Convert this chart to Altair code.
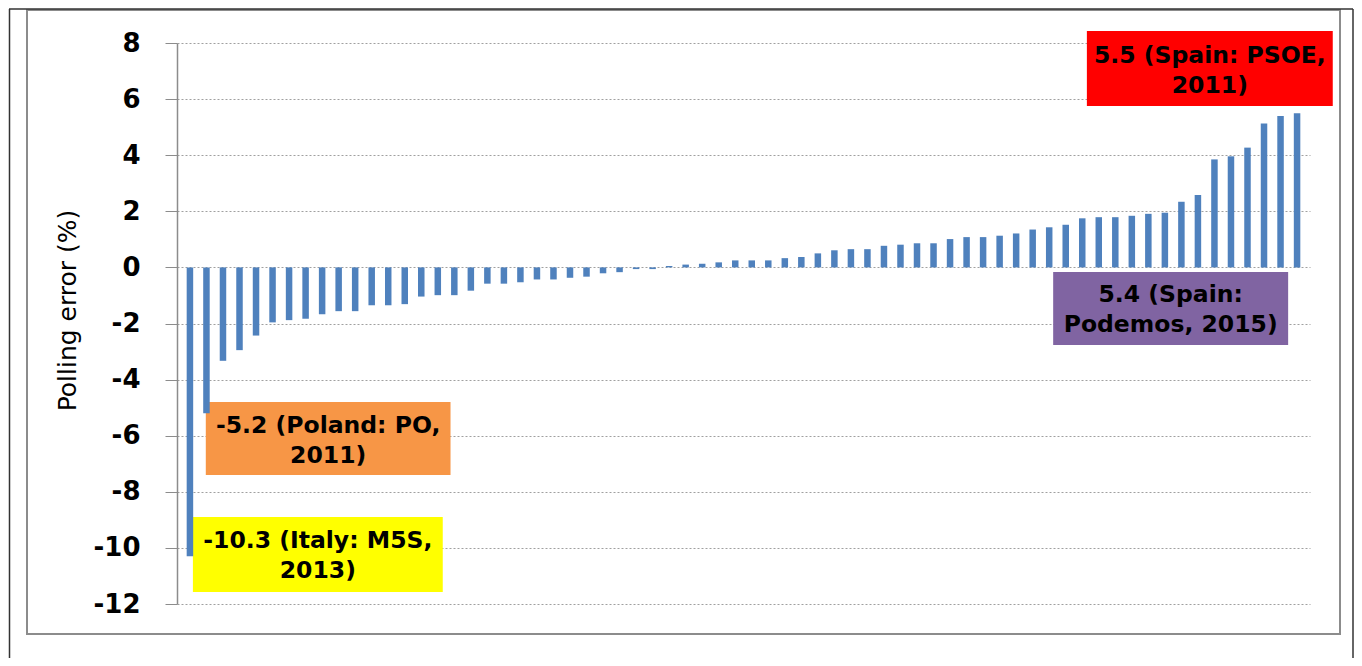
import altair as alt
import pandas as pd

# ---- data ----
bar_rank = list(range(1, 69))
polling_error = [
    -10.3, -5.2, -3.33, -2.95, -2.43, -1.96, -1.88, -1.83, -1.67, -1.56,
    -1.56, -1.35, -1.35, -1.31, -1.04, -0.99, -0.99, -0.83, -0.58, -0.58,
    -0.53, -0.43, -0.43, -0.37, -0.33, -0.21, -0.17, -0.06, -0.06, 0.05,
    0.10, 0.13, 0.18, 0.25, 0.25, 0.25, 0.33, 0.37, 0.50, 0.61,
    0.65, 0.65, 0.77, 0.81, 0.86, 0.86, 1.01, 1.08, 1.08, 1.13,
    1.21, 1.35, 1.43, 1.52, 1.75, 1.79, 1.79, 1.84, 1.91, 1.95,
    2.34, 2.58, 3.85, 3.96, 4.27, 5.13, 5.40, 5.50,
]
y_ticks = list(range(-12, 9, 2))

# annotation call-outs (anchored in data coordinates)
ann_text = ["-10.3 (Italy: M5S,\n2013)", "-5.2 (Poland: PO,\n2011)",
            "5.5 (Spain: PSOE,\n2011)", "5.4 (Spain:\nPodemos, 2015)"]
ann_color = ["#FFFF00", "#F79646", "#FF0000", "#8064A2"]
ann_x1 = [1.18, 1.96, 55.28, 53.24]
ann_x2 = [16.30, 16.77, 70.16, 67.46]
ann_y1 = [-8.90, -4.80, 8.43, -0.16]
ann_y2 = [-11.57, -7.40, 5.75, -2.77]

bars_df = pd.DataFrame({"rank": bar_rank, "error": polling_error})
bars_df["base"] = 0.0
ann_df = pd.DataFrame({"label": ann_text, "color": ann_color,
                       "x1": ann_x1, "x2": ann_x2, "y1": ann_y1, "y2": ann_y2})

W, H = 1133, 561
xscale = alt.Scale(domain=[0.52, 68.48], nice=False, zero=False)
yscale = alt.Scale(domain=[-12, 8], nice=False, zero=False)
y_axis = alt.Axis(values=y_ticks, title="Polling error (%)",
                  labelExpr="datum.value < 0 ? '-' + abs(datum.value) : '' + datum.value",
                  titleX=-110, titleY=267, titleBaseline="middle",
                  titleAngle=270, titleAlign="center")

base_empty = alt.Chart(pd.DataFrame({"k": [0]}))

# decorative frames (no fill, so the axis stays visible)
gray_frame = base_empty.mark_rect(fillOpacity=0, stroke="#8c8c8c", strokeWidth=2).encode(
    x=alt.value(-150), x2=alt.value(1163), y=alt.value(-33), y2=alt.value(591))
outer_left = base_empty.mark_rule(color="#333333", strokeWidth=1.5).encode(
    x=alt.value(-167.5), y=alt.value(-34), y2=alt.value(615))
outer_top = base_empty.mark_rule(color="#333333", strokeWidth=1.5).encode(
    x=alt.value(-168), x2=alt.value(1176), y=alt.value(-34))
outer_right = base_empty.mark_rule(color="#333333", strokeWidth=1.5).encode(
    x=alt.value(1176), y=alt.value(-34), y2=alt.value(615))

bars = alt.Chart(bars_df).mark_bar(width=6.5, color="#4F81BD").encode(
    x=alt.X("rank:Q", scale=xscale, axis=None),
    y=alt.Y("error:Q", scale=yscale, axis=y_axis),
    y2=alt.Y2("base:Q"),
)

boxes = alt.Chart(ann_df).mark_rect().encode(
    x=alt.X("x1:Q", scale=xscale, axis=None), x2="x2:Q",
    y=alt.Y("y1:Q", scale=yscale, axis=y_axis), y2="y2:Q",
    fill=alt.Color("color:N", scale=None),
)

texts = alt.Chart(ann_df).transform_calculate(
    xm="(datum.x1 + datum.x2) / 2", ym="(datum.y1 + datum.y2) / 2"
).mark_text(font="DejaVu Sans", fontWeight="bold", fontSize=23.5, color="black",
            align="center", baseline="middle", lineBreak="\n", lineHeight=30,
            dy=-13).encode(
    x=alt.X("xm:Q", scale=xscale, axis=None),
    y=alt.Y("ym:Q", scale=yscale, axis=y_axis),
    text="label:N")

chart = alt.layer(gray_frame, outer_left, outer_top, outer_right, boxes, bars, texts).properties(
    width=W, height=H,
    autosize=alt.AutoSizeParams(type="none"),
    padding={"left": 169, "top": 35, "right": 44, "bottom": 54},
    background="white",
).configure_view(stroke=None).configure_axis(
    domainColor="#8c8c8c", domainWidth=1.5,
    tickColor="#8c8c8c", tickSize=12, tickWidth=1,
    gridColor="#a0a0a0", gridDash=[2, 2], gridWidth=1,
    labelFont="DejaVu Sans", labelFontWeight="bold", labelFontSize=26, labelColor="black",
    labelPadding=25,
    titleFont="DejaVu Sans", titleFontWeight="normal", titleFontSize=25, titleColor="black",
)

chart.save("out.html", embed_options={"renderer": "svg", "actions": False})
